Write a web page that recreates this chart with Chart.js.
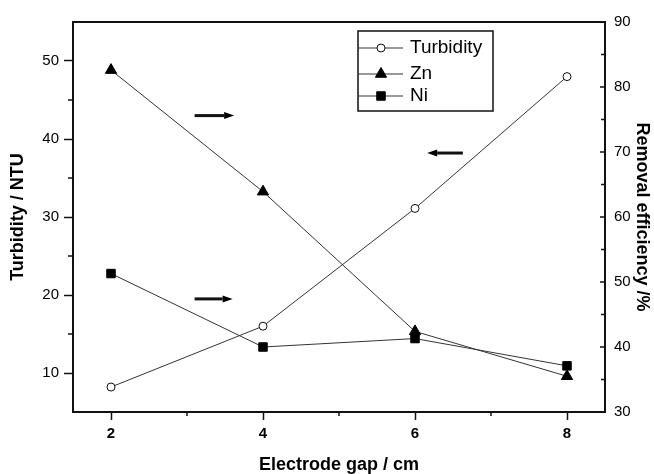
<!DOCTYPE html>
<html>
<head>
<meta charset="utf-8">
<script src="https://cdn.jsdelivr.net/npm/chart.js@4.4.1/dist/chart.umd.min.js"></script>
<style>
  body { margin: 0; background: #fff; }
  #wrap { width: 654px; height: 474px; }
</style>
</head>
<body>
<div id="wrap"><canvas id="gapChart"></canvas></div>
<script>
const gaps = [2, 4, 6, 8];
const turbidity = [8.2, 16.0, 31.1, 48.0];
const znRemoval = [82.6, 63.9, 42.4, 35.5];
const niRemoval = [51.3, 40.0, 41.3, 37.1];

const xTicks = [2, 4, 6, 8];
const xMinor = [3, 5, 7];
const leftTicks = [10, 20, 30, 40, 50];
const leftMinor = [15, 25, 35, 45];
const rightTicks = [30, 40, 50, 60, 70, 80, 90];
const rightMinor = [35, 45, 55, 65, 75, 85];

// arrows telling which axis a curve is read on (x, left-axis value)
const arrows = [
    {from: [3.1, 43.0], to: [3.62, 43.0]},
    {from: [3.1, 19.5], to: [3.6, 19.5]},
    {from: [6.63, 38.2], to: [6.16, 38.2]},
];

const FONT = 'Arial, "Liberation Sans", sans-serif';
Chart.defaults.font.family = FONT;
Chart.defaults.color = '#000';

function points(ys) {
    return gaps.map((x, i) => ({x: x, y: ys[i]}));
}

function fixTicks(values) {
    return scale => { scale.ticks = values.map(v => ({value: v})); };
}

const axisBorder = {color: '#111', width: 2};

const extras = {
    id: 'extras',
    afterDraw(chart) {
        const {ctx, chartArea: a, scales} = chart;
        const x = scales.x, y = scales.y, y2 = scales.y2;
        ctx.save();
        ctx.strokeStyle = '#111';
        ctx.fillStyle = '#000';

        // minor ticks, and the inward ticks of the right axis
        ctx.lineWidth = 1.5;
        ctx.beginPath();
        xMinor.forEach(v => {
            const p = x.getPixelForValue(v);
            ctx.moveTo(p, a.bottom); ctx.lineTo(p, a.bottom + 4);
        });
        leftMinor.forEach(v => {
            const p = y.getPixelForValue(v);
            ctx.moveTo(a.left, p); ctx.lineTo(a.left - 5, p);
        });
        rightTicks.forEach(v => {
            const p = y2.getPixelForValue(v);
            ctx.moveTo(a.right, p); ctx.lineTo(a.right - 5, p);
        });
        rightMinor.forEach(v => {
            const p = y2.getPixelForValue(v);
            ctx.moveTo(a.right, p); ctx.lineTo(a.right - 4, p);
        });
        ctx.stroke();

        // top frame
        ctx.lineWidth = 2;
        ctx.beginPath();
        ctx.moveTo(a.left - 1, a.top); ctx.lineTo(a.right + 1, a.top);
        ctx.stroke();

        // arrows
        arrows.forEach(ar => {
            const x0 = x.getPixelForValue(ar.from[0]), y0 = y.getPixelForValue(ar.from[1]);
            const x1 = x.getPixelForValue(ar.to[0]), y1 = y.getPixelForValue(ar.to[1]);
            const dir = Math.sign(x1 - x0);
            const head = 10;
            ctx.lineWidth = 3;
            ctx.beginPath();
            ctx.moveTo(x0, y0); ctx.lineTo(x1 - dir * head, y1);
            ctx.stroke();
            ctx.beginPath();
            ctx.moveTo(x1, y1);
            ctx.lineTo(x1 - dir * head, y1 - 3.5);
            ctx.lineTo(x1 - dir * head, y1 + 3.5);
            ctx.closePath();
            ctx.fill();
        });

        // legend
        ctx.lineWidth = 1.5;
        ctx.strokeRect(358, 31, 135, 80);
        const rows = [48, 74, 96];
        chart.data.datasets.forEach((ds, i) => {
            const cy = rows[i];
            ctx.strokeStyle = ds.borderColor;
            ctx.lineWidth = 1;
            ctx.beginPath();
            ctx.moveTo(358, cy); ctx.lineTo(403, cy);
            ctx.stroke();
            ctx.fillStyle = ds.pointBackgroundColor;
            ctx.strokeStyle = ds.pointBorderColor;
            ctx.lineWidth = ds.pointBorderWidth;
            Chart.helpers.drawPoint(ctx, {
                pointStyle: ds.pointStyle, radius: ds.pointRadius,
                borderWidth: ds.pointBorderWidth, rotation: 0
            }, 381, cy);
            ctx.fillStyle = '#000';
            ctx.font = '19px ' + FONT;
            ctx.textBaseline = 'middle';
            ctx.textAlign = 'left';
            ctx.fillText(ds.label, 410, cy);
        });
        ctx.restore();
    }
};

new Chart(document.getElementById('gapChart'), {
    type: 'line',
    data: {
        datasets: [
            {
                label: 'Turbidity',
                data: points(turbidity),
                yAxisID: 'y',
                borderColor: '#333',
                borderWidth: 1,
                pointStyle: 'circle',
                pointRadius: 4,
                pointBackgroundColor: '#fff',
                pointBorderColor: '#111',
                pointBorderWidth: 1,
            },
            {
                label: 'Zn',
                data: points(znRemoval),
                yAxisID: 'y2',
                borderColor: '#333',
                borderWidth: 1,
                pointStyle: 'triangle',
                pointRadius: 6.5,
                pointBackgroundColor: '#000',
                pointBorderColor: '#000',
                pointBorderWidth: 1,
            },
            {
                label: 'Ni',
                data: points(niRemoval),
                yAxisID: 'y2',
                borderColor: '#333',
                borderWidth: 1,
                pointStyle: 'rect',
                pointRadius: 6,
                pointBackgroundColor: '#000',
                pointBorderColor: '#000',
                pointBorderWidth: 1,
            },
        ]
    },
    options: {
        responsive: true,
        maintainAspectRatio: false,
        animation: false,
        events: [],
        layout: {padding: {top: 22, left: 0, right: 0, bottom: 0}},
        plugins: {
            legend: {display: false},
            tooltip: {enabled: false},
        },
        scales: {
            x: {
                type: 'linear',
                position: 'bottom',
                min: 1.5,
                max: 8.5,
                afterBuildTicks: fixTicks(xTicks),
                afterFit: s => { s.height = 62; },
                grid: {drawOnChartArea: false, tickLength: 8, tickWidth: 1.5, tickColor: '#111'},
                border: axisBorder,
                ticks: {font: {size: 15, weight: 'bold'}, padding: 5, color: '#000'},
                title: {
                    display: true,
                    text: 'Electrode gap / cm',
                    font: {size: 18, weight: 'bold', lineHeight: 1},
                    padding: {top: 0, bottom: 0},
                },
            },
            y: {
                position: 'left',
                min: 5,
                max: 55,
                afterBuildTicks: fixTicks(leftTicks),
                afterFit: s => { s.width = 73; },
                grid: {drawOnChartArea: false, tickLength: 9, tickWidth: 1.5, tickColor: '#111'},
                border: axisBorder,
                ticks: {font: {size: 15}, padding: 5, color: '#000'},
                title: {
                    display: true,
                    text: 'Turbidity / NTU',
                    font: {size: 18, weight: 'bold', lineHeight: 1},
                    padding: {top: 9, bottom: 0},
                },
            },
            y2: {
                position: 'right',
                min: 30,
                max: 90,
                afterBuildTicks: fixTicks(rightTicks),
                afterFit: s => { s.width = 49; },
                grid: {drawOnChartArea: false, drawTicks: false},
                border: axisBorder,
                ticks: {font: {size: 15}, padding: 9, color: '#000'},
                title: {
                    display: true,
                    text: 'Removal efficiency /%',
                    font: {size: 18, weight: 'bold', lineHeight: 1},
                    padding: {top: 3, bottom: 0},
                },
            },
        }
    },
    plugins: [extras]
});
</script>
</body>
</html>
